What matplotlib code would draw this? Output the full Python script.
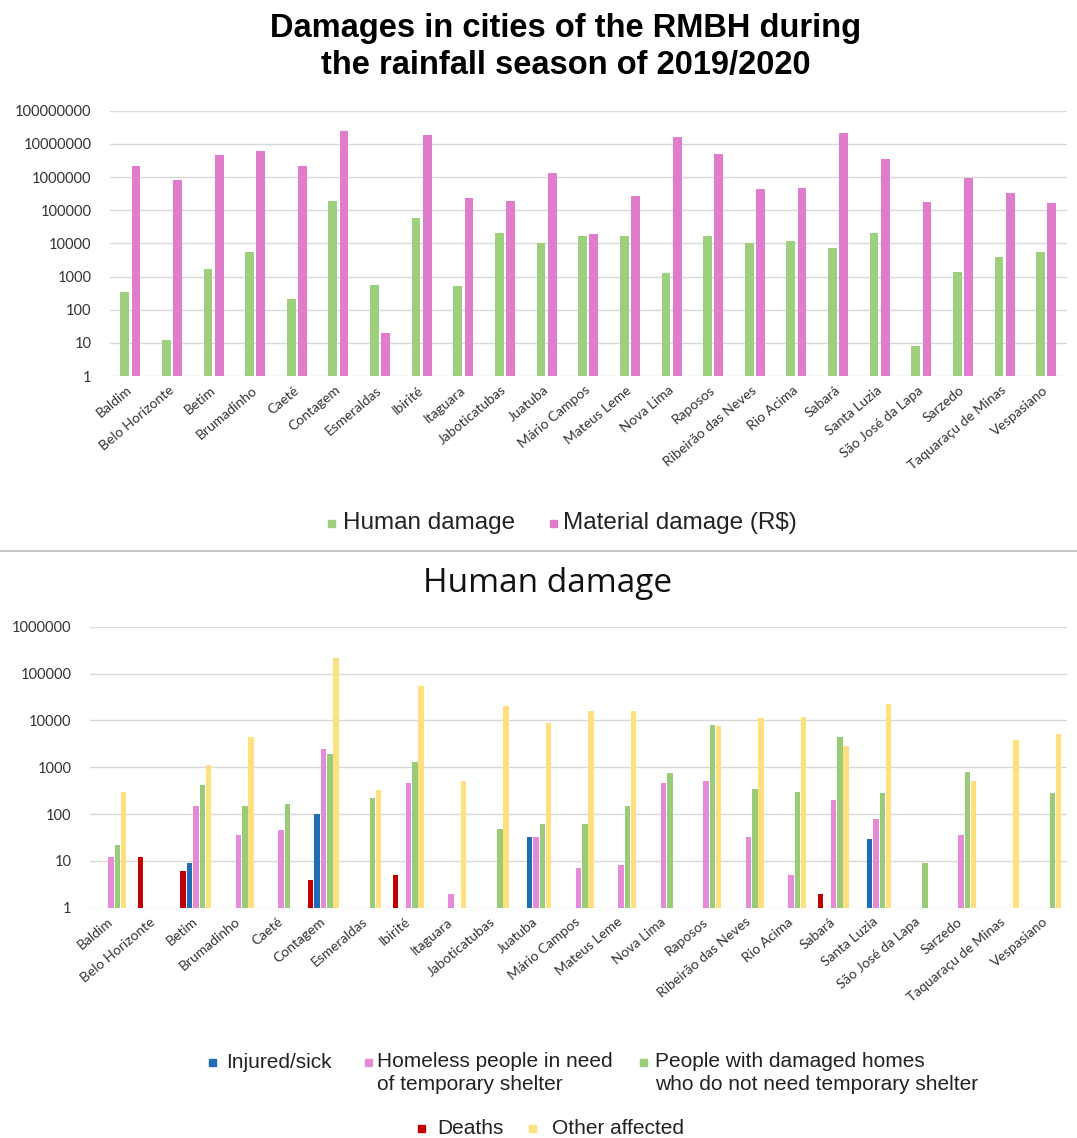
import numpy as np
import matplotlib.pyplot as plt
from matplotlib.patches import Rectangle
from matplotlib.lines import Line2D

# cities of the RMBH
cities = ["Baldim", "Belo Horizonte", "Betim", "Brumadinho", "Caeté", "Contagem",
          "Esmeraldas", "Ibirité", "Itaguara", "Jaboticatubas", "Juatuba",
          "Mário Campos", "Mateus Leme", "Nova Lima", "Raposos", "Ribeirão das Neves",
          "Rio Acima", "Sabará", "Santa Luzia", "São José da Lapa", "Sarzedo",
          "Taquaraçu de Minas", "Vespasiano"]

# top chart
human = [340, 12, 1700, 5600, 210, 190000, 560, 59000, 500, 20000, 10000,
         17000, 17000, 1250, 17000, 10000, 12000, 7200, 21000, 8, 1400, 4000, 5400]
material = [2200000, 830000, 4500000, 6000000, 2200000, 24000000, 20, 18000000,
            240000, 190000, 1300000, 18500, 260000, 16000000, 4800000, 430000,
            480000, 22000000, 3500000, 180000, 950000, 320000, 160000]

# bottom chart (0 = no bar)
deaths = [0, 12, 6, 0, 0, 4, 0, 5, 0, 0, 0, 0, 0, 0, 0, 0, 0, 2, 0, 0, 0, 0, 0]
injured = [0, 0, 9, 0, 0, 100, 0, 0, 0, 0, 32, 0, 0, 0, 0, 0, 0, 0, 30, 0, 0, 0, 0]
homeless = [12, 0, 150, 35, 45, 2400, 0, 450, 2, 0, 32, 7, 8, 450, 500, 32, 5,
            200, 80, 0, 35, 0, 0]
damaged_homes = [22, 0, 420, 150, 160, 1900, 220, 1300, 0, 48, 60, 60, 150, 750,
                 8000, 350, 300, 4500, 280, 9, 780, 0, 280]
other_affected = [300, 0, 1100, 4500, 0, 210000, 320, 55000, 500, 20000, 9000,
                  16000, 16000, 0, 7500, 11000, 12000, 2800, 22000, 0, 500, 3800, 5000]

green_top = '#9dcf7d'
pink_top = '#e07ccc'
c_deaths = '#c00000'
c_injured = '#1f6db5'
c_homeless = '#e58ad6'
c_damaged = '#9acb79'
c_other = '#ffe07f'
grid_c = '#d9d9d9'

W, H = 1077, 1138
fig = plt.figure(figsize=(W / 100, H / 100), dpi=100)


def fx(x):
    return x / W


def fy(y):
    return 1 - y / H


def nz(v):
    v = np.array(v, dtype=float)
    return np.where(v > 0, v, np.nan)


def style_axis(ax, ymax):
    ax.set_yscale('log')
    ax.set_ylim(1, ymax)
    ax.set_xlim(-0.5, len(cities) - 0.5)
    ticks = [10 ** k for k in range(int(np.log10(ymax)) + 1)]
    ax.set_yticks(ticks)
    ax.set_yticklabels([str(t) for t in ticks], fontfamily='Lato', fontsize=10.5,
                       color='#333333')
    ax.minorticks_off()
    ax.yaxis.grid(True, color=grid_c, linewidth=1)
    ax.set_axisbelow(True)
    for s in ax.spines.values():
        s.set_visible(False)
    ax.tick_params(axis='y', length=0, pad=13)
    ax.tick_params(axis='x', length=0, pad=9)
    ax.set_xticks(np.arange(len(cities)))
    ax.set_xticklabels(cities, rotation=40, ha='right', va='center',
                       rotation_mode='anchor', fontfamily='Lato', fontsize=10,
                       color='#333333')


x = np.arange(len(cities))

# ---------------- top chart ----------------
ax1 = fig.add_axes([fx(109.5), fy(376), 957.5 / W, (376 - 110.7) / H])
ax1.bar(x - 0.135, nz(human), width=0.21, color=green_top)
ax1.bar(x + 0.135, nz(material), width=0.21, color=pink_top)
style_axis(ax1, 1e8)

fig.text(fx(566), fy(47), "Damages in cities of the RMBH during\nthe rainfall season of 2019/2020",
         ha='center', va='center', fontfamily='Liberation Sans', fontweight='bold',
         fontsize=23.5, linespacing=1.25)


def legend_item(xs, y, xt, color, label, size, sq=7, va='center', ty=None):
    fig.patches.append(Rectangle((fx(xs - sq / 2), fy(y + sq / 2)), sq / W, sq / H,
                                 transform=fig.transFigure, color=color))
    fig.text(fx(xt), fy(y if ty is None else ty), label, ha='left', va=va,
             fontfamily='Liberation Sans', fontsize=size, color='#222222',
             linespacing=1.25)


legend_item(331, 523, 343, green_top, "Human damage", 17.5)
legend_item(553, 523, 563, pink_top, "Material damage (R$)", 17.5)

# separator line between the two panels
fig.add_artist(Line2D([0, 1], [fy(551), fy(551)], transform=fig.transFigure,
                      color='#c8c8c8', linewidth=1.5))

# ---------------- bottom chart ----------------
ax2 = fig.add_axes([fx(89.7), fy(907.7), 977.5 / W, (907.7 - 626.7) / H])
series = [deaths, injured, homeless, damaged_homes, other_affected]
colors = [c_deaths, c_injured, c_homeless, c_damaged, c_other]
for i, (vals, col) in enumerate(zip(series, colors)):
    ax2.bar(x + (i - 2) * 0.15, nz(vals), width=0.13, color=col)
style_axis(ax2, 1e6)

fig.text(fx(548), fy(583), "Human damage", ha='center', va='center',
         fontfamily='Open Sans', fontsize=24, color='#111111')

legend_item(212, 1062, 226, c_injured, "Injured/sick", 15)
legend_item(368, 1062, 377, c_homeless, "Homeless people in need\nof temporary shelter", 15,
            va='top', ty=1052)
legend_item(643, 1062, 655, c_damaged, "People with damaged homes\nwho do not need temporary shelter", 15,
            va='top', ty=1052)
legend_item(421, 1128, 437, c_deaths, "Deaths", 15)
legend_item(532, 1128, 552, c_other, "Other affected", 15)

fig.savefig("out.png", dpi=100)
